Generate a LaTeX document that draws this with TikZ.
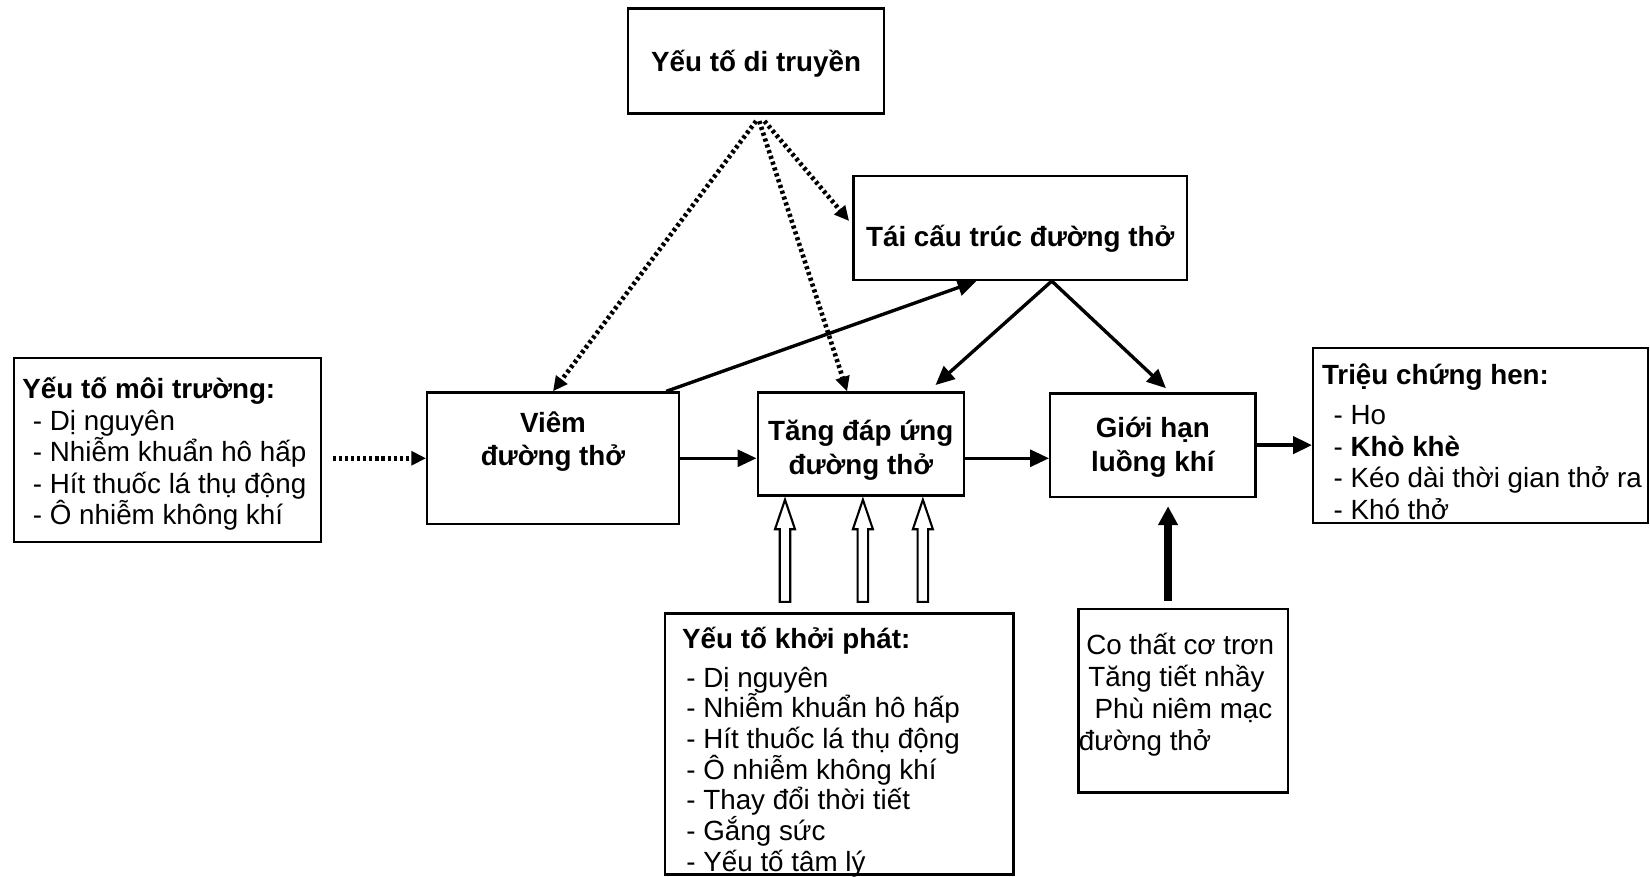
\documentclass[tikz,border=0pt]{standalone}
\usepackage{fontspec}
\setmainfont{Liberation Sans}
\usetikzlibrary{arrows.meta, calc}

\tikzset{
  box/.style={draw, line width=1.1pt, inner sep=0pt},
  lbl/.style={font=\fontsize{13.2}{16}\selectfont\bfseries, align=center, inner sep=0pt},
  lst/.style={font=\fontsize{13.2}{15}\selectfont, align=left, inner sep=0pt},
  arr/.style={line width=1.6pt, -{Triangle[length=9pt,width=8pt]}},
  dots/.style={line width=2.2pt, dash pattern=on 1.5pt off 1.4pt, -{Triangle[length=7pt,width=6.5pt]}},
  fat/.style={line width=3.4pt, -{Triangle[length=9pt,width=9pt]}},
  hollow/.pic={\draw[line width=1pt, fill=white] (-2.5pt,0pt) -- (-2.5pt,34.5pt) -- (-4.75pt,34.5pt)
    -- (0pt,48.5pt) -- (4.75pt,34.5pt) -- (2.5pt,34.5pt) -- (2.5pt,0pt) -- cycle;}
}

\begin{document}
\begin{tikzpicture}[x=0.5pt, y=-0.5pt]
\useasboundingbox (0,0) rectangle (1568,833);
\clip (0,0) rectangle (1568,833);
% Yếu tố di truyền
\node[box, minimum width=121.5pt, minimum height=50pt] (gen) at (718.5,58) {};
\node[lbl] (gentxt) at ([yshift=-1.5pt]gen.center) {Yếu tố di truyền};
% Tái cấu trúc
\node[box, minimum width=158.5pt, minimum height=49.5pt] (remodel) at (969.5,216.5) {};
\node[lbl] (remtxt) at ([yshift=-5pt]remodel.center) {Tái cấu trúc đường thở};
% Yếu tố môi trường
\node[box, minimum width=146pt, minimum height=87.5pt] (env) at (159,427.5) {};
\node[lst, anchor=west] (envtxt) at ([xshift=4.5pt,yshift=-2pt]env.west)
  {\textbf{Yếu tố môi trường:}\\\hspace*{5pt}- Dị nguyên\\\hspace*{5pt}- Nhiễm khuẩn hô hấp\\
   \hspace*{5pt}- Hít thuốc lá thụ động\\\hspace*{5pt}- Ô nhiễm không khí};
% chuỗi giữa
\node[box, minimum width=119.5pt, minimum height=62.5pt] (viem) at (525.5,435.5) {};
\node[lbl] (viemtxt) at ([yshift=8pt]viem.center) {Viêm\\đường thở};
\node[box, minimum width=98pt, minimum height=49pt] (tang) at (818,422) {};
\node[lbl] (tangtxt) at ([yshift=-3pt]tang.center) {Tăng đáp ứng\\đường thở};
\node[box, minimum width=97.5pt, minimum height=49pt] (gioi) at (1095.5,423) {};
\node[lbl] (gioitxt) at ([yshift=-1pt]gioi.center) {Giới hạn\\luồng khí};
% Triệu chứng
\node[box, minimum width=159pt, minimum height=83pt] (symp) at (1407,414) {};
\node[lst, anchor=west] (symtxt) at ([xshift=4.5pt,yshift=-3pt]symp.west)
  {\textbf{Triệu chứng hen:}\\[4pt]\hspace*{5.5pt}- Ho\\\hspace*{5.5pt}- \textbf{Khò khè}\\
   \hspace*{5.5pt}- Kéo dài thời gian thở ra\\\hspace*{5.5pt}- Khó thở};
% Yếu tố khởi phát
\node[box, minimum width=165.5pt, minimum height=124pt] (trig) at (797.5,707) {};
\node[lst, font=\fontsize{13.2}{14.6}\selectfont, anchor=west] (trigtxt) at ([xshift=8.5pt,yshift=-4pt]trig.west)
  {\textbf{Yếu tố khởi phát:}\\[3.5pt]\hspace*{2pt}- Dị nguyên\\\hspace*{2pt}- Nhiễm khuẩn hô hấp\\
   \hspace*{2pt}- Hít thuốc lá thụ động\\\hspace*{2pt}- Ô nhiễm không khí\\\hspace*{2pt}- Thay đổi thời tiết\\
   \hspace*{2pt}- Gắng sức\\\hspace*{2pt}- Yếu tố tâm lý};
% cơ chế
\node[box, minimum width=99.5pt, minimum height=87pt] (mech) at (1124.5,666) {};
\node[lst, font=\fontsize{13.2}{15.3}\selectfont, anchor=north west] (mechtxt) at ([xshift=0.5pt,yshift=-11.5pt]mech.north west)
  {\hspace*{3.5pt}Co thất cơ trơn\\\hspace*{4.5pt}Tăng tiết nhầy\\\hspace*{7.5pt}Phù niêm mạc\\đường thở};

% mũi tên chấm
\coordinate (gsrc) at ([yshift=-3pt]gen.south);
\draw[dots] (gsrc) -- (viem.north);
\draw[dots] ([xshift=1.5pt]gsrc) -- ([xshift=-6.5pt]tang.north);
\draw[dots] ([xshift=4pt]gsrc) -- ([xshift=-1.5pt,yshift=3.25pt]remodel.west);
\coordinate (esrc) at ([xshift=5pt]env.east);
\draw[dots] (esrc |- viem.west) -- (viem.west);
% mũi tên liền
\draw[arr] ([xshift=-6.5pt]viem.north east) -- ([xshift=-20.75pt]remodel.south);
\coordinate (rsrc) at ([xshift=15pt]remodel.south);
\draw[arr] (rsrc) -- ([xshift=35.5pt,yshift=3pt]tang.north);
\draw[arr] (rsrc) -- ([xshift=6.25pt,yshift=2pt]gioi.north);
\draw[arr] (viem.east) -- (tang.west |- viem.east);
\draw[arr] (tang.east |- viem.east) -- (gioi.west |- viem.east);
\draw[arr, line width=2pt] (gioi.east) -- (symp.west |- gioi.east);
% mũi tên rỗng
\foreach \dx in {-25.75,11.25,39.75}
  \pic at ([xshift=\dx pt,yshift=5pt]trig.north) {hollow};
\draw[fat] ($(mech.north -| gioi.south)+(7.25pt,3.5pt)$) -- ($(gioi.south)+(7.25pt,-4pt)$);
\end{tikzpicture}
\end{document}
